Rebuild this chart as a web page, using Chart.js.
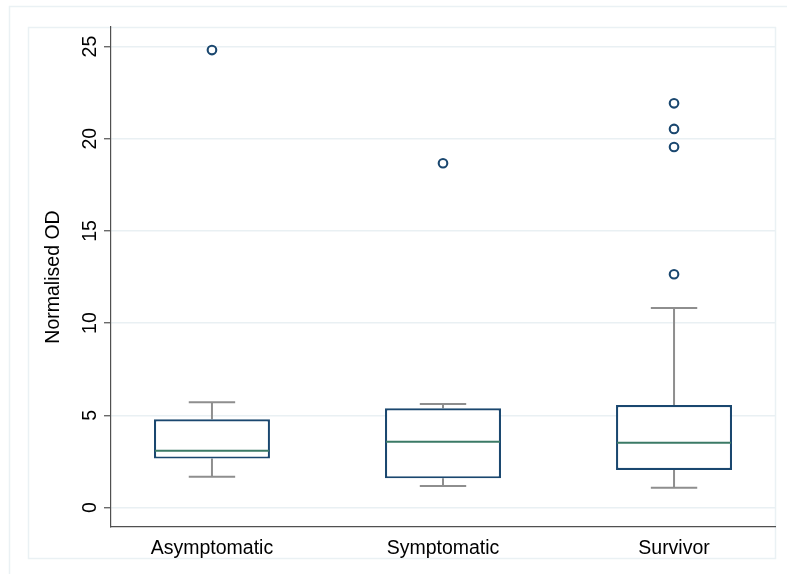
<!DOCTYPE html>
<html>
<head>
<meta charset="utf-8">
<script src="https://cdn.jsdelivr.net/npm/chart.js@4/dist/chart.umd.min.js"></script>
<style>
  html, body { margin: 0; padding: 0; background: #fff; }
  canvas { display: block; }
</style>
</head>
<body>
<canvas id="chart" width="787" height="574"></canvas>
<script>
// Box-plot summaries of normalised OD per group
const groups = ['Asymptomatic', 'Symptomatic', 'Survivor'];
const lowerWhisker = [1.67, 1.17, 1.07];
const q1 = [2.65, 1.58, 2.03];
const median = [3.08, 3.57, 3.51];
const q3 = [4.78, 5.38, 5.56];
const upperWhisker = [5.70, 5.61, 10.82];
const outliers = [[24.81], [18.67], [12.65, 19.55, 20.53, 21.92]];
const yTicks = [0, 5, 10, 15, 20, 25];

const FONT = "'Liberation Sans', Arial, Helvetica, sans-serif";
const NAVY = '#1a476f';
const MEDIAN_GREEN = '#3b7a66';
const WHISKER_GREY = '#8e8e8e';
const GRID = '#e9f0f3';
const FRAME = '#eaf1f4';
const AXIS = '#505050';

Chart.defaults.font.family = FONT;
Chart.defaults.color = '#000';

const boxData = groups.map((g, i) => ({ x: i + 1, y: [q1[i], q3[i]] }));
const outlierData = [];
outliers.forEach((list, i) => list.forEach(v => outlierData.push({ x: i + 1, y: v })));

const boxDecor = {
  id: 'boxDecor',
  beforeDraw(chart) {
    const ctx = chart.ctx;
    ctx.save();
    ctx.fillStyle = '#fff';
    ctx.fillRect(0, 0, chart.width, chart.height);
    ctx.strokeStyle = FRAME;
    ctx.lineWidth = 1.5;
    // outer graph region
    ctx.strokeRect(9.5, 6.5, chart.width + 10, chart.height + 10);
    // inner graph region
    ctx.strokeRect(28.5, 27.5, 747, 531);
    ctx.restore();
  },
  beforeDatasetsDraw(chart) {
    const ctx = chart.ctx;
    const xs = chart.scales.x, ys = chart.scales.y;
    const bars = chart.getDatasetMeta(0).data;
    ctx.save();
    ctx.strokeStyle = WHISKER_GREY;
    ctx.lineWidth = 2;
    groups.forEach((g, i) => {
      const cx = xs.getPixelForValue(i + 1);
      const half = bars[i].width * 0.2;
      const segs = [[q3[i], upperWhisker[i]], [q1[i], lowerWhisker[i]]];
      segs.forEach(([from, to]) => {
        const y0 = ys.getPixelForValue(from), y1 = ys.getPixelForValue(to);
        ctx.beginPath();
        ctx.moveTo(cx, y0);
        ctx.lineTo(cx, y1);
        ctx.moveTo(cx - half, y1);
        ctx.lineTo(cx + half, y1);
        ctx.stroke();
      });
    });
    ctx.restore();
  },
  afterDatasetDraw(chart, args) {
    if (args.index !== 0) return;
    const ctx = chart.ctx;
    const xs = chart.scales.x, ys = chart.scales.y;
    const bars = chart.getDatasetMeta(0).data;
    ctx.save();
    ctx.strokeStyle = MEDIAN_GREEN;
    ctx.lineWidth = 2;
    groups.forEach((g, i) => {
      const cx = xs.getPixelForValue(i + 1);
      const half = bars[i].width / 2 - 1;
      const y = ys.getPixelForValue(median[i]);
      ctx.beginPath();
      ctx.moveTo(cx - half, y);
      ctx.lineTo(cx + half, y);
      ctx.stroke();
    });
    ctx.restore();
  },
  afterDraw(chart) {
    // vertical tick labels on the y axis
    const ctx = chart.ctx;
    const ys = chart.scales.y;
    ctx.save();
    ctx.fillStyle = '#000';
    ctx.font = '19.5px ' + FONT;
    ctx.textAlign = 'center';
    ctx.textBaseline = 'middle';
    yTicks.forEach(v => {
      const y = ys.getPixelForValue(v);
      ctx.save();
      ctx.translate(91, y);
      ctx.rotate(-Math.PI / 2);
      ctx.fillText(String(v), 0, 0);
      ctx.restore();
    });
    ctx.restore();
  }
};

new Chart(document.getElementById('chart'), {
  data: {
    datasets: [
      {
        type: 'bar',
        data: boxData,
        backgroundColor: '#fff',
        borderColor: NAVY,
        borderWidth: 2.2,
        borderSkipped: false,
        barPercentage: 0.502,
        categoryPercentage: 1,
        order: 2
      },
      {
        type: 'scatter',
        data: outlierData,
        pointRadius: 4.3,
        pointBorderWidth: 2.1,
        pointBorderColor: NAVY,
        pointBackgroundColor: 'rgba(0,0,0,0)',
        order: 1
      }
    ]
  },
  options: {
    responsive: false,
    animation: false,
    devicePixelRatio: 1,
    layout: { padding: { top: 27, right: 12, left: 0, bottom: 0 } },
    plugins: { legend: { display: false }, tooltip: { enabled: false } },
    scales: {
      x: {
        type: 'linear',
        offset: false,
        min: 0.563,
        max: 3.437,
        afterBuildTicks: s => { s.ticks = groups.map((g, i) => ({ value: i + 1 })); },
        afterFit: s => { s.height = 47; },
        grid: { display: false, drawTicks: false, offset: false },
        border: { color: AXIS, width: 1.2 },
        ticks: {
          padding: 10,
          maxRotation: 0,
          autoSkip: false,
          font: { size: 19.5 },
          color: '#000',
          callback: v => groups[v - 1]
        }
      },
      y: {
        type: 'linear',
        min: -1.06,
        max: 26.06,
        afterBuildTicks: s => { s.ticks = yTicks.map(v => ({ value: v })); },
        afterFit: s => { s.width = 111; },
        grid: { color: GRID, lineWidth: 1.5, tickLength: 7, tickColor: AXIS, tickWidth: 1.2 },
        border: { color: AXIS, width: 1.2 },
        ticks: { display: false },
        title: {
          display: true,
          text: 'Normalised OD',
          font: { size: 19.5 },
          color: '#000',
          padding: { top: 42, bottom: 0 }
        }
      }
    }
  },
  plugins: [boxDecor]
});
</script>
</body>
</html>
